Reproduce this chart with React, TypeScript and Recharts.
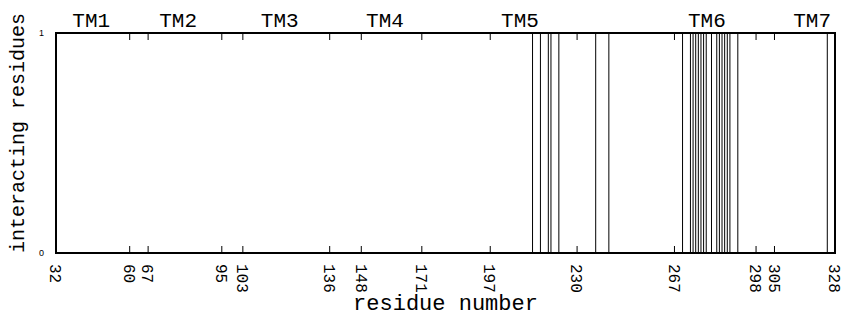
import React from 'react';
import {
  ComposedChart,
  XAxis,
  YAxis,
  Bar,
  Scatter,
  ReferenceArea,
  ReferenceDot,
} from 'recharts';

// residue numbers that interact (value = 1)
const interactingResidues = [
  213, 216, 219, 220, 223, 237, 242,
  270, 273, 274, 275, 276, 277, 278, 279, 281, 283, 284, 285, 286, 287, 288, 291,
  325,
];
const xTicks = [32, 60, 67, 95, 103, 136, 148, 171, 197, 230, 267, 298, 305, 328];
const yTicks = [0, 1];
const tmLabels = ['TM1', 'TM2', 'TM3', 'TM4', 'TM5', 'TM6', 'TM7'];
const tmCenters = [45.4, 78.4, 117, 157, 208.3, 279.3, 319.3];

const data = interactingResidues.map((r) => ({ res: r, v: 1 }));
const topTickData = xTicks.map((t) => ({ res: t, v: 1 }));
const MONO = '"Liberation Mono", "DejaVu Sans Mono", monospace';

const RotTick = (props: any) => {
  const { x, y, payload } = props;
  return (
    <text
      x={x}
      y={y}
      dy="0.36em"
      transform={`rotate(90, ${x}, ${y})`}
      textAnchor="start"
      fontFamily={MONO}
      fontSize={16}
      fill="#000"
    >
      {payload.value}
    </text>
  );
};

// mirrored inward tick mark on the top edge
const TopTickShape = (props: any) => {
  const { cx, cy } = props;
  if (cx == null || cy == null) return <g />;
  return <line x1={cx} x2={cx} y1={cy} y2={cy + 7} stroke="#000" strokeWidth={1} />;
};

const YLabel = () => (
  <text
    x={24}
    y={133}
    transform="rotate(-90, 24, 133)"
    textAnchor="middle"
    fontFamily={MONO}
    fontSize={20}
    fill="#000"
  >
    interacting residues
  </text>
);

export default function App() {
  return (
    <div style={{ position: 'absolute', left: 0, top: 0 }}>
      <ComposedChart
        width={845}
        height={322}
        data={data}
        margin={{ top: 33, right: 10, bottom: 0, left: 0 }}
      >
        <XAxis
          type="number"
          dataKey="res"
          domain={[32, 328]}
          ticks={xTicks}
          interval={0}
          allowDataOverflow
          height={69}
          axisLine={false}
          tickLine={{ stroke: '#000', strokeWidth: 1 }}
          tickSize={-7}
          tickMargin={18}
          tick={<RotTick />}
          label={{
            value: 'residue number',
            position: 'insideBottom',
            offset: 12,
            fontFamily: MONO,
            fontSize: 22,
            fill: '#000',
          }}
        />
        <YAxis
          type="number"
          domain={[0, 1]}
          ticks={yTicks}
          interval={0}
          width={56}
          axisLine={false}
          tickLine={false}
          tickSize={0}
          tickMargin={12}
          tick={{ fontSize: 9, fill: '#000', fontFamily: '"Liberation Sans", Arial, sans-serif' }}
          label={{ content: <YLabel /> }}
        />
        <Bar dataKey="v" fill="#000" barSize={1} isAnimationActive={false} />
        <Scatter
          data={topTickData}
          dataKey="v"
          shape={<TopTickShape />}
          isAnimationActive={false}
        />
        <ReferenceArea
          x1={32}
          x2={328}
          y1={0}
          y2={1}
          fill="none"
          fillOpacity={0}
          stroke="#000"
          strokeWidth={2}
          ifOverflow="visible"
        />
        {tmLabels.map((t, i) => (
          <ReferenceDot
            key={t}
            x={tmCenters[i]}
            y={1}
            r={0}
            fill="none"
            stroke="none"
            ifOverflow="visible"
            label={{
              value: t,
              position: 'top',
              offset: 6,
              fontFamily: MONO,
              fontSize: 21,
              fill: '#000',
            }}
          />
        ))}
      </ComposedChart>
    </div>
  );
}
